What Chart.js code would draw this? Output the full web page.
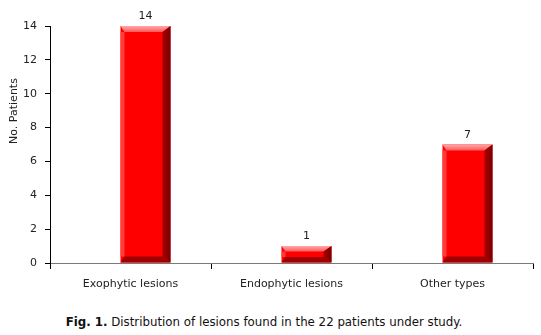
<!DOCTYPE html>
<html>
<head>
<meta charset="utf-8">
<script src="https://cdn.jsdelivr.net/npm/chart.js@4/dist/chart.umd.min.js"></script>
<style>
  body { margin: 0; background: #fff; }
  .wrap { position: relative; width: 541px; height: 335px; }
  .chartBox { position: absolute; left: 0; top: 0; width: 541px; height: 300px; }
  .caption {
    position: absolute; left: 0; top: 315px; width: 528px;
    text-align: center; font: 11.8px "DejaVu Sans", Verdana, sans-serif; color: #111;
  }
</style>
</head>
<body>
<div class="wrap">
  <div class="chartBox"><canvas id="myChart" width="541" height="300"></canvas></div>
  <div class="caption"><b>Fig. 1.</b> Distribution of lesions found in the 22 patients under study.</div>
</div>
<script>
const categories = ["Exophytic lesions", "Endophytic lesions", "Other types"];
const patients = [14, 1, 7];
const yTicks = [0, 2, 4, 6, 8, 10, 12, 14];
const yTitle = "No. Patients";

const FONT = '"DejaVu Sans", Verdana, sans-serif';

// bevelled red bars, drawn on top of the (transparent) chart bars
const bevelBars = {
  id: "bevelBars",
  afterDatasetsDraw(chart) {
    const ctx = chart.ctx;
    const meta = chart.getDatasetMeta(0);
    const shift = 15;
    meta.data.forEach((bar, i) => {
      const L = bar.x - bar.width / 2 + shift;
      const R = bar.x + bar.width / 2 + shift;
      const T = bar.y;
      const B = bar.base;
      const h = B - T;
      const b = Math.min(6, h / 3);
      const rs = 8;
      const ls = 4;
      ctx.save();
      ctx.fillStyle = "#ff0000";
      ctx.fillRect(L, T, R - L, h);
      ctx.fillStyle = "#ff3c3c";
      ctx.fillRect(L, T + b, ls, h - 2 * b);
      // top face
      const g = ctx.createLinearGradient(0, T, 0, T + b);
      g.addColorStop(0, "#ffa8a8");
      g.addColorStop(1, "#ff5a5a");
      ctx.fillStyle = g;
      ctx.beginPath();
      ctx.moveTo(L, T); ctx.lineTo(R, T); ctx.lineTo(R - rs, T + b); ctx.lineTo(L + ls, T + b);
      ctx.closePath(); ctx.fill();
      // bottom face
      ctx.fillStyle = "#a00000";
      ctx.beginPath();
      ctx.moveTo(L, B); ctx.lineTo(R, B); ctx.lineTo(R - rs, B - b); ctx.lineTo(L + ls, B - b);
      ctx.closePath(); ctx.fill();
      // right face
      const gr = ctx.createLinearGradient(R - rs, 0, R, 0);
      gr.addColorStop(0, "#a80000");
      gr.addColorStop(1, "#780000");
      ctx.fillStyle = gr;
      ctx.beginPath();
      ctx.moveTo(R, T); ctx.lineTo(R, B); ctx.lineTo(R - rs, B - b); ctx.lineTo(R - rs, T + b);
      ctx.closePath(); ctx.fill();
      // value on top
      ctx.fillStyle = "#222";
      ctx.font = "11px " + FONT;
      ctx.textAlign = "center";
      ctx.textBaseline = "bottom";
      ctx.fillText(String(patients[i]), (L + R) / 2, T - 4);
      ctx.restore();
    });
  },
  afterDraw(chart) {
    const ctx = chart.ctx;
    ctx.save();
    ctx.translate(14, 111);
    ctx.rotate(-Math.PI / 2);
    ctx.fillStyle = "#222";
    ctx.font = "11px " + FONT;
    ctx.textAlign = "center";
    ctx.textBaseline = "middle";
    ctx.fillText(yTitle, 0, 0);
    ctx.restore();
  },
};

const chartElement = document.getElementById("myChart");
const myChart = new Chart(chartElement, {
  type: "bar",
  data: {
    labels: categories,
    datasets: [
      {
        data: patients,
        backgroundColor: "rgba(0,0,0,0)",
        borderWidth: 0,
        barThickness: 50,
      },
    ],
  },
  options: {
    responsive: false,
    animation: false,
    layout: { padding: { top: 26, right: 8, left: 0, bottom: 0 } },
    plugins: { legend: { display: false }, tooltip: { enabled: false } },
    scales: {
      x: {
        offset: true,
        grid: {
          offset: true,
          drawOnChartArea: false,
          drawTicks: true,
          tickLength: 6,
          color: "#000",
        },
        border: { color: "#7a7a7a", width: 1 },
        ticks: { color: "#222", font: { family: FONT, size: 11 }, padding: 9 },
        afterFit: (scale) => { scale.height = 37; },
      },
      y: {
        min: 0,
        max: 14,
        afterBuildTicks: (scale) => { scale.ticks = yTicks.map((v) => ({ value: v })); },
        grid: { drawOnChartArea: false, drawTicks: true, tickLength: 5, color: "#000" },
        border: { color: "#000", width: 1 },
        ticks: { color: "#222", font: { family: FONT, size: 11 }, padding: 8 },
        afterFit: (scale) => { scale.width = 50; },
      },
    },
  },
  plugins: [bevelBars],
});
</script>
</body>
</html>
